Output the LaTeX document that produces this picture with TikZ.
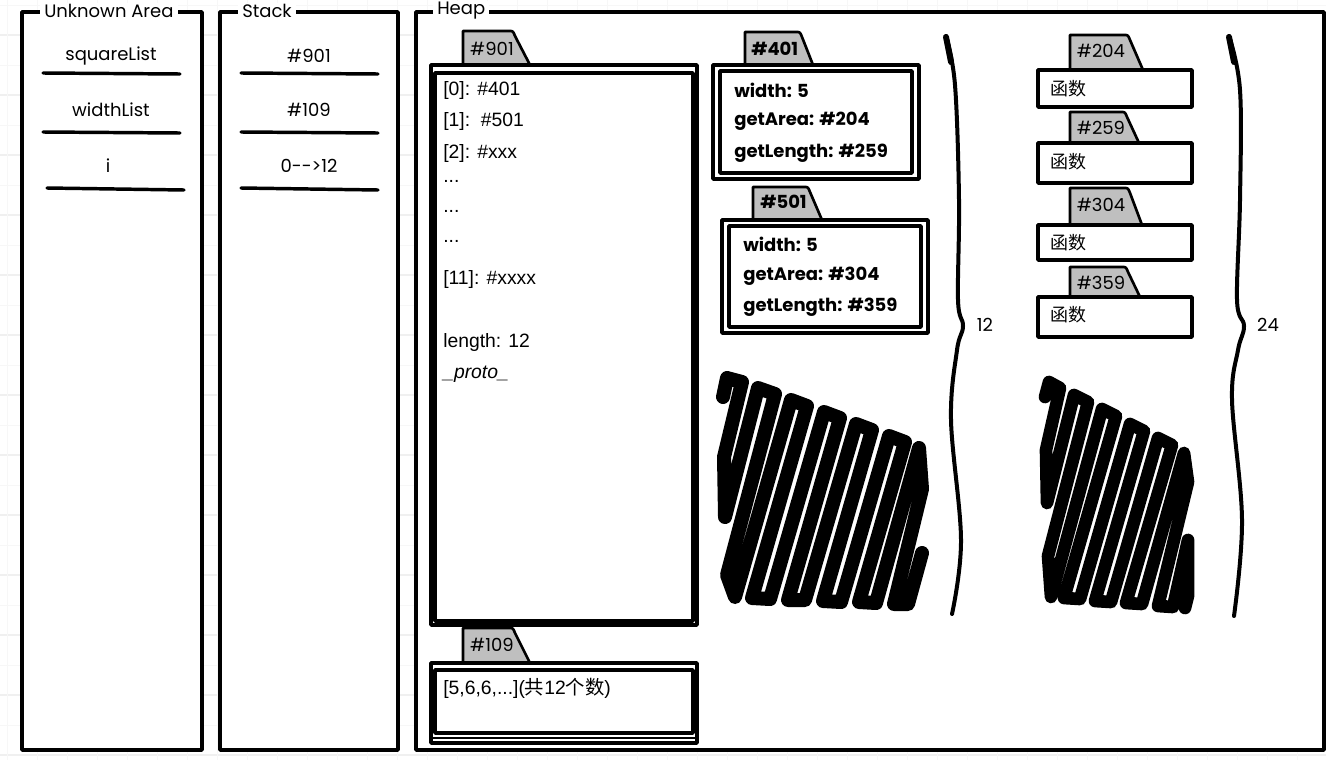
\documentclass[tikz,border=0pt]{standalone}
\usepackage{fontspec}
\setmainfont{Poppins}
\newfontfamily\arialf{Liberation Sans}
\newfontfamily\cjk{Noto Sans CJK SC}
\tikzset{
  pen/.style={draw=black, line width=2.6pt, line join=round},
  thinpen/.style={draw=black, line width=2pt, line join=round},
  tabsty/.style={fill=black!25, draw=black, line width=2pt, line join=round},
  bal/.style={font=\fontsize{13.5}{15}\selectfont, inner sep=0pt},
  balb/.style={font=\fontsize{13.5}{15}\selectfont\bfseries, inner sep=0pt, anchor=west},
  ari/.style={font=\arialf\fontsize{14.5}{16}\selectfont, inner sep=0pt, anchor=west},
  ttl/.style={font=\fontsize{13.5}{15}\selectfont, fill=white, inner xsep=3pt, inner ysep=1pt, anchor=west},
  uline/.style={line width=2.6pt, line cap=round},
  scrib/.style={line width=10.5pt, line cap=round, line join=round},
  brace/.style={line width=3pt, line cap=round},
}
\newcommand\mytab[5]{% left, top, bottom, corner, end
  \filldraw[tabsty] (#1,#3) -- (#1,#2) -- ({#4-4},#2) .. controls (#4,#2) .. ({#4+2},{#2+5}) -- (#5,#3);}
\begin{document}
\begin{tikzpicture}[x=0.75pt,y=-0.75pt]
\useasboundingbox (0,0) rectangle (1326,760);
\fill[white] (0,0) rectangle (1326,760);
% faint background grid
\foreach \yy in {5,35,...,755} \draw[black!3, line width=0.6pt] (0,\yy) -- (1326,\yy);
\foreach \yy in {35,95,...,755} \draw[black!6, line width=0.9pt] (0,\yy) -- (1326,\yy);
\foreach \xx in {7,37,...,1326} \draw[black!3, line width=0.6pt] (\xx,0) -- (\xx,760);

% ---------- panels ----------
\filldraw[pen, fill=white] (22,12) rectangle (202,750);
\node[ttl] (tUnk) at (40,11) {Unknown Area};
\filldraw[pen, fill=white] (220,12) rectangle (398,750);
\node[ttl] (tStk) at (238,11) {Stack};
\filldraw[pen, fill=white] (416,12) rectangle (1324,750);
\node[ttl] (tHeap) at (433,11) {Heap};

% ---------- Unknown Area ----------
\node[bal] (uSq) at (111,56) {squareList};
\node[bal] (uWd) at (111,110) {widthList};
\node[bal] (uI) at (108,166) {i};
\draw[uline] (43,73) -- (180,74);
\draw[uline] (43,132) -- (180,133);
\draw[uline] (47,188) -- (184,190);

% ---------- Stack ----------
\node[bal] (s901) at (309,56) {\#901};
\node[bal] (s109) at (309,110) {\#109};
\node[bal] (sI) at (309,166) {0{-}{-}>12};
\draw[uline] (241,73) -- (378,74);
\draw[uline] (241,132) -- (378,133);
\draw[uline] (241,188) -- (378,190);

% ---------- #901 array ----------
\mytab{463}{31}{65}{513}{530}
\node[bal] (l901) at (492,49) {\#901};
\draw[pen] (431,65) rectangle (697,625);
\draw[pen] (435,73) rectangle (693,621);
\node[ari] (a0) at (443,90) {[0]: \#401};
\node[ari] (a1) at (443,121) {[1]:\ \ \#501};
\node[ari] (a2) at (443,153) {[2]: \#xxx};
\node[ari] (a3) at (443,181) {...};
\node[ari] (a4) at (443,211) {...};
\node[ari] (a5) at (443,241) {...};
\node[ari] (a11) at (443,279) {[11]: \#xxxx};
\node[ari] (aLen) at (443,342) {length: 12};
\node[ari] (aPro) at (443,374) {\itshape \_proto\_};

% ---------- #109 ----------
\mytab{463}{628}{663}{513}{530}
\node[bal] (l109) at (492,645) {\#109};
\draw[pen] (431,663) rectangle (697,743);
\draw[pen] (435,670) rectangle (693,733);
\draw[thinpen] (433,738) -- (695,738);
\node[ari] (wl) at (443,688) {[5,6,6,...](\cjk 共\arialf 12\cjk 个数\arialf )};

% ---------- #401 ----------
\mytab{745}{32}{65}{800}{813}
\node[balb] (l401) at (751,49) {\#401};
\draw[pen] (713,65) rectangle (919,179);
\draw[pen] (720,71) rectangle (912,173);
\node[balb] (o1w) at (734,90) {width: 5};
\node[balb] (o1a) at (734,121) {getArea: \#204};
\node[balb] (o1l) at (734,153) {getLength: \#259};

% ---------- #501 ----------
\mytab{753}{187}{220}{808}{822}
\node[balb] (l501) at (760,202) {\#501};
\draw[pen] (722,220) rectangle (928,333);
\draw[pen] (729,226) rectangle (921,327);
\node[balb] (o2w) at (743,244) {width: 5};
\node[balb] (o2a) at (743,276) {getArea: \#304};
\node[balb] (o2l) at (743,307) {getLength: \#359};

% ---------- function boxes ----------
\mytab{1070}{35}{70}{1128}{1143}
\node[bal] (l204) at (1101,51) {\#204};
\draw[pen] (1038,70) rectangle (1192,107);
\node[anchor=west, inner sep=0pt, font=\cjk\fontsize{13.5}{15}\selectfont] (f1) at (1050,89) {函数};

\mytab{1070}{112}{143}{1125}{1139}
\node[bal] (l259) at (1101,128) {\#259};
\draw[pen] (1038,143) rectangle (1192,183);
\node[anchor=west, inner sep=0pt, font=\cjk\fontsize{13.5}{15}\selectfont] (f2) at (1050,162) {函数};

\mytab{1070}{188}{225}{1128}{1142}
\node[bal] (l304) at (1101,205) {\#304};
\draw[pen] (1038,225) rectangle (1192,260);
\node[anchor=west, inner sep=0pt, font=\cjk\fontsize{13.5}{15}\selectfont] (f3) at (1050,243) {函数};

\mytab{1070}{267}{297}{1126}{1140}
\node[bal] (l359) at (1101,283) {\#359};
\draw[pen] (1038,297) rectangle (1192,337);
\node[anchor=west, inner sep=0pt, font=\cjk\fontsize{13.5}{15}\selectfont] (f4) at (1050,315) {函数};

% ---------- braces ----------
\draw[brace] plot[smooth, tension=0.6] coordinates {(946,36) (955,85) (959,200) (958,300) (963,326) (957,350) (951,420) (961,540) (952,614)};
\draw[line width=4.5pt, line cap=round] (946,37) -- (951,62);
\node[bal] (n12) at (985,325) {12};
\draw[brace] plot[smooth, tension=0.6] coordinates {(1229,36) (1240,90) (1240,200) (1237,300) (1244,326) (1238,350) (1232,400) (1242,520) (1234,616)};
\draw[line width=4.5pt, line cap=round] (1229,37) -- (1234,62);
\node[bal] (n24) at (1268,325) {24};

% ---------- scribbles ----------
\draw[scrib] (723,397) -- (727,378) -- (742,382) -- (724,457) -- (725,517) -- (758,388) -- (775,394) -- (727,575)
  -- (735,597) -- (791,400) -- (807,406) -- (752,598) -- (770,599) -- (824,412) -- (840,418) -- (788,600)
  -- (805,600) -- (856,424) -- (872,430) -- (823,601) -- (841,602) -- (889,436) -- (905,442) -- (859,602)
  -- (876,603) -- (919,448) -- (922,489) -- (894,604) -- (908,604) -- (922,553);
\draw[scrib, line width=9.5pt] (1045,397) -- (1049,382) -- (1060,388) -- (1046,450) -- (1047,503) -- (1074,395) -- (1088,402) -- (1048,556)
  -- (1051,597) -- (1102,409) -- (1116,416) -- (1064,598) -- (1080,599) -- (1130,424) -- (1144,431) -- (1095,601)
  -- (1111,602) -- (1158,438) -- (1172,445) -- (1126,603) -- (1142,604) -- (1184,453) -- (1188,482) -- (1158,606)
  -- (1173,607) -- (1188,540) -- (1188,596) -- (1185,608);
\end{tikzpicture}
\end{document}
